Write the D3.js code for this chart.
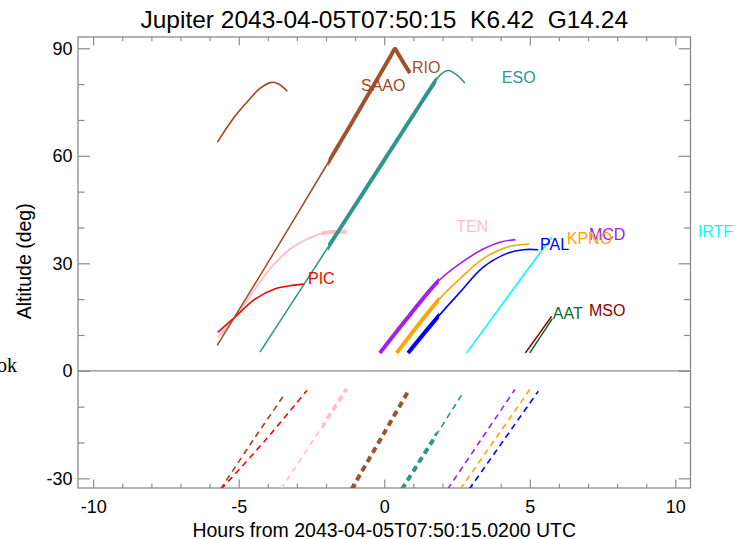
<!DOCTYPE html>
<html>
<head>
<meta charset="utf-8">
<script src="https://cdn.jsdelivr.net/npm/d3@7"></script>
<style>
body { margin: 0; background: #fff; }
svg { display: block; font-family: "Liberation Sans", Arial, Helvetica, sans-serif; }
</style>
</head>
<body>
<svg id="chart" width="747" height="539"></svg>
<script>
// tick values
const xTicks = [-10, -5, 0, 5, 10];
const xMinor = d3.range(-10, 11, 1).filter(d => d % 5 !== 0);
const yTicks = [90, 60, 30, 0, -30];
const yMinor = [80, 70, 50, 40, 20, 10, -10, -20];

// stations in drawing order
const stations = ["TEN", "PIC", "SAAO", "RIO", "ESO", "MCD", "KPNO", "PAL", "IRTF", "MSO", "AAT"];

// target altitude curves (hours from reference time, degrees)
const altHours = [
  [-5.72, -5.13, -4.44, -3.87, -3.18, -2.49, -2.04, -1.29],
  [-5.72, -5.13, -4.44, -3.75, -3.2, -2.72],
  [-5.73, -5.18, -4.6, -4.27, -3.87, -3.6, -3.33],
  [-5.74, -4.01, -1.92, -0.8, 0.25, 0.37, 0.45, 0.88],
  [-4.27, -1.93, 0, 1.0, 1.8, 1.97, 2.2, 2.49, 2.77],
  [-0.15, 0.88, 1.88, 2.6, 3.4, 3.97, 4.51],
  [0.43, 1.88, 2.6, 3.4, 4.2, 4.98],
  [0.82, 1.88, 2.6, 3.4, 4.2, 4.77, 5.29],
  [2.83, 4.29, 5.75],
  [4.85, 5.75],
  [5.0, 5.77]
];
const altDeg = [
  [9.3, 14.8, 22.8, 29.0, 34.3, 37.3, 38.5, 38.8],
  [10.7, 15.0, 20.0, 22.9, 23.8, 24.2],
  [63.8, 70.5, 76.0, 78.8, 80.5, 79.9, 78.0],
  [7.1, 30, 58.2, 73.6, 88.3, 89.9, 88.8, 83.1],
  [5.2, 34.5, 58.8, 71.4, 81.3, 82.9, 83.8, 82.6, 80.3],
  [5.0, 15.6, 25.2, 29.9, 34.0, 35.9, 36.6],
  [5.0, 19.9, 25.7, 31.3, 34.5, 35.3],
  [5.0, 15.4, 21.9, 28.9, 32.7, 33.8, 33.8],
  [5.0, 21.2, 37.3],
  [5.0, 15.2],
  [5.0, 14.5]
];

// sun altitude below horizon (dashed)
const sunHours = [
  [-3.55, -2.4, -1.29],
  [-5.6, -4.1, -2.66],
  [-5.62, -4.5, -3.41],
  [-1.12, 0, 0.86],
  [0.61, 1.7, 2.74],
  [2.18, 3.3, 4.49],
  [2.61, 3.8, 5.0],
  [2.92, 4.1, 5.29],
  [], [], []
];
const sunDeg = [
  [-33, -18.9, -5.0],
  [-33, -19.5, -5.5],
  [-33, -19.3, -6.4],
  [-33, -17.3, -5.2],
  [-33, -19.0, -5.7],
  [-33, -19.5, -5.2],
  [-33, -19.2, -5.2],
  [-33, -19.4, -5.7],
  [], [], []
];

// dark-time window (thick part), null = none
const nightFrom = [-2.15, null, null, -1.92, -1.93, -1, -1, -1, null, null, null];
const nightTo   = [0, null, null, 1.5, 1.79, 1.88, 1.88, 1.88, null, null, null];

// label positions in hours, label sits at the last altitude
const labelHour = [2.47, -2.62, -0.8, 0.95, 4.04, 7.03, 6.27, 5.35, 10.77, 7.03, 5.79];

const colors = ["#ffc0cb", "#ff0000", "#a3441a", "#a0522d", "#30968c", "#a020f0",
                "#ffa500", "#0000ff", "#00ffff", "#8b0000", "#0d6b32"];

const frame = { left: 78, right: 690.5, top: 37, bottom: 488 };
const axisGrey = "#8c8c8c";

const svg = d3.select("#chart");

const x = d3.scaleLinear().domain([-10.52, 10.52]).range([frame.left, frame.right]);
const y = d3.scaleLinear().domain([-32.7, 93.15]).range([frame.bottom, frame.top]);

const defs = svg.append("defs");
defs.append("clipPath").attr("id", "plotClip")
  .append("rect")
  .attr("x", frame.left).attr("y", frame.top)
  .attr("width", frame.right - frame.left)
  .attr("height", frame.bottom - frame.top);

// title
svg.append("text")
  .attr("x", (frame.left + frame.right) / 2)
  .attr("y", 28)
  .attr("text-anchor", "middle")
  .attr("font-size", 24.5)
  .attr("fill", "#000")
  .attr("xml:space", "preserve")
  .text("Jupiter 2043-04-05T07:50:15  K6.42  G14.24");

// stray text on the left edge
svg.append("text")
  .attr("x", 17).attr("y", 372)
  .attr("text-anchor", "end")
  .attr("font-family", "'Liberation Serif', 'DejaVu Serif', serif")
  .attr("font-size", 20)
  .text("ok");

// axes
const plain = d => String(d);
function styleAxis(g) {
  g.select(".domain").remove();
  g.selectAll(".tick line").attr("stroke", axisGrey).attr("stroke-width", 1.2);
  g.selectAll(".tick text").attr("fill", "#000").attr("font-size", 18)
    .attr("font-family", "'Liberation Sans', Arial, sans-serif");
}

svg.append("g").attr("transform", `translate(${frame.left},0)`)
  .call(d3.axisLeft(y).tickValues(yTicks).tickSize(-12).tickPadding(5.5).tickFormat(plain))
  .call(styleAxis);
svg.append("g").attr("transform", `translate(${frame.left},0)`)
  .call(d3.axisLeft(y).tickValues(yMinor).tickSize(-6.5).tickFormat(""))
  .call(styleAxis);
svg.append("g").attr("transform", `translate(${frame.right},0)`)
  .call(d3.axisRight(y).tickValues(yTicks).tickSize(-12).tickFormat(""))
  .call(styleAxis);
svg.append("g").attr("transform", `translate(${frame.right},0)`)
  .call(d3.axisRight(y).tickValues(yMinor).tickSize(-6.5).tickFormat(""))
  .call(styleAxis);

svg.append("g").attr("transform", `translate(0,${frame.bottom})`)
  .call(d3.axisBottom(x).tickValues(xTicks).tickSize(-8.5).tickPadding(12.2).tickFormat(plain))
  .call(styleAxis);
svg.append("g").attr("transform", `translate(0,${frame.bottom})`)
  .call(d3.axisBottom(x).tickValues(xMinor).tickSize(-4.3).tickFormat(""))
  .call(styleAxis);
svg.append("g").attr("transform", `translate(0,${frame.top})`)
  .call(d3.axisTop(x).tickValues(xTicks).tickSize(-8.5).tickFormat(""))
  .call(styleAxis);
svg.append("g").attr("transform", `translate(0,${frame.top})`)
  .call(d3.axisTop(x).tickValues(xMinor).tickSize(-4.3).tickFormat(""))
  .call(styleAxis);

// frame and horizon line
svg.append("rect")
  .attr("x", frame.left).attr("y", frame.top)
  .attr("width", frame.right - frame.left)
  .attr("height", frame.bottom - frame.top)
  .attr("fill", "none").attr("stroke", axisGrey).attr("stroke-width", 1.3);
svg.append("line")
  .attr("x1", frame.left).attr("x2", frame.right)
  .attr("y1", y(0)).attr("y2", y(0))
  .attr("stroke", axisGrey).attr("stroke-width", 1.3);

// axis titles
svg.append("text")
  .attr("x", (frame.left + frame.right) / 2)
  .attr("y", 536.5)
  .attr("text-anchor", "middle")
  .attr("font-size", 19.5)
  .text("Hours from 2043-04-05T07:50:15.0200 UTC");
svg.append("text")
  .attr("transform", `translate(31,${y(30) - 2}) rotate(-90)`)
  .attr("text-anchor", "middle")
  .attr("font-size", 19.5)
  .text("Altitude (deg)");

// curves
const line = d3.line()
  .x(d => x(d[0]))
  .y(d => y(d[1]))
  .curve(d3.curveCatmullRom.alpha(0.5));

const plot = svg.append("g").attr("clip-path", "url(#plotClip)");

stations.forEach((name, i) => {
  const col = colors[i];
  const pts = altHours[i].map((h, j) => [h, altDeg[i][j]]);
  const sun = sunHours[i].map((h, j) => [h, sunDeg[i][j]]);

  let nightClip = null;
  if (nightFrom[i] !== null) {
    nightClip = "night" + i;
    defs.append("clipPath").attr("id", nightClip)
      .append("rect")
      .attr("x", x(nightFrom[i]))
      .attr("width", x(nightTo[i]) - x(nightFrom[i]))
      .attr("y", frame.top)
      .attr("height", frame.bottom - frame.top);
  }

  // altitude, thin then thick during dark time
  plot.append("path")
    .attr("d", line(pts))
    .attr("fill", "none")
    .attr("stroke", col)
    .attr("stroke-width", name === "TEN" ? 2 : 1.6);
  if (nightClip) {
    plot.append("g").attr("clip-path", `url(#${nightClip})`)
      .append("path")
      .attr("d", line(pts))
      .attr("fill", "none")
      .attr("stroke", col)
      .attr("stroke-width", 4);
  }

  // sun below horizon, dashed
  if (sun.length) {
    plot.append("path")
      .attr("d", line(sun))
      .attr("fill", "none")
      .attr("stroke", col)
      .attr("stroke-width", 1.6)
      .attr("stroke-dasharray", "6,4.5");
    if (nightClip) {
      plot.append("g").attr("clip-path", `url(#${nightClip})`)
        .append("path")
        .attr("d", line(sun))
        .attr("fill", "none")
        .attr("stroke", col)
        .attr("stroke-width", 4)
        .attr("stroke-dasharray", "6,4.5");
    }
  }
});

// station labels
stations.forEach((name, i) => {
  const last = altDeg[i][altDeg[i].length - 1];
  svg.append("text")
    .attr("x", x(labelHour[i]))
    .attr("y", y(last))
    .attr("font-size", 16)
    .attr("fill", colors[i])
    .text(name);
});
</script>
</body>
</html>
